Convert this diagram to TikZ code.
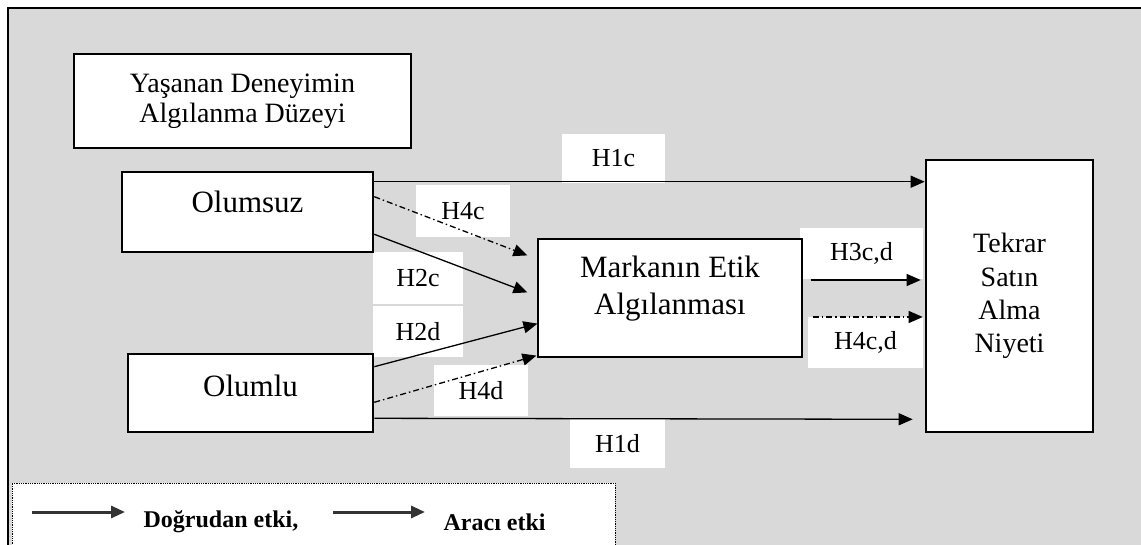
\documentclass[tikz,border=0pt]{standalone}
\usepackage{fontspec}
\setmainfont{Liberation Serif}
\usetikzlibrary{arrows.meta,positioning}
\definecolor{panelgray}{RGB}{217,217,217}

\begin{document}
\begin{tikzpicture}[
    x = 1pt, y = -1pt, % pixel units, y goes down
    > = {Triangle[length=14pt,width=12pt]}, % arrow head style
    line width = 1.3pt, % connector line
    direct/.style = {->},
    indirect/.style = {->, dash pattern=on 6pt off 3pt on 1.5pt off 3pt}
  ]

  \tikzset{
    box/.style = {draw = black, line width = 2.6pt, fill = white,
      align = center, inner sep = 0pt},
    hyp/.style = {fill = white, inner sep = 0pt,
      font = \fontsize{26}{30}\selectfont},
    legarrow/.style = {->, line width = 3pt, draw = black!80}
  }

  \clip (0,0) rectangle (1141,545);
  \fill[panelgray] (8,8) rectangle (1160,560);
  \draw[line width = 2.6pt] (8,560) -- (8,8) -- (1160,8);

  % hypothesis labels
  \node[hyp, minimum width=103, minimum height=49] (h1c) at (613.5,158.5) {H1c};
  \node[hyp, minimum width=94, minimum height=52] (h4c) at (463,211) {H4c};
  \node[hyp, minimum width=90, minimum height=52] (h2c) at (418,278) {H2c};
  \node[hyp, minimum width=90, minimum height=51] (h2d) at (418,331.5) {H2d};
  \node[hyp, minimum width=94, minimum height=51] (h4d) at (481,390.5) {H4d};
  \node[hyp, minimum width=95, minimum height=49] (h1d) at (617.5,443.5) {H1d};
  \node[hyp, minimum width=123, minimum height=51] (h3cd) at (861.5,253.5) {H3c,d};
  \node[hyp, minimum width=115, minimum height=51] (h4cd) at (865.5,342.5) {H4c,d};

  % boxes
  \node[box, minimum width=337, minimum height=94,
    font=\fontsize{28}{30}\selectfont] (level) at (242.5,101)
    {Yaşanan Deneyimin\\Algılanma Düzeyi};
  \node[box, minimum width=251, minimum height=80, text depth=20pt,
    font=\fontsize{31}{36}\selectfont] (neg) at (247.5,212) {Olumsuz};
  \node[box, minimum width=245, minimum height=78, text depth=14pt,
    font=\fontsize{31}{36}\selectfont] (pos) at (250.5,393) {Olumlu};
  \node[box, line width=1.2pt, minimum width=264, minimum height=118,
    font=\fontsize{31}{37}\selectfont] (brand) at (670,298)
    {Markanın Etik\\Algılanması\\[-12pt]};
  \node[box, minimum width=167, minimum height=272,
    font=\fontsize{28}{33.3}\selectfont] (intent) at (1009.5,296)
    {Tekrar\\Satın\\Alma\\Niyeti};

  % connectors
  \draw[direct] ([yshift=-11]neg.north east) -- ([yshift=-23]intent.north west);
  \draw[indirect] ([yshift=-26]neg.north east) -- ([xshift=-10,yshift=-17]brand.north west);
  \draw[direct] ([yshift=19]neg.south east) -- ([xshift=-10,yshift=-54]brand.north west);
  \draw[direct] ([yshift=-14]pos.north east) -- ([yshift=34]brand.south west);
  \draw[indirect] ([yshift=31]pos.south east) -- ([xshift=-1,yshift=2]brand.south west);
  \draw[direct] ([yshift=15]pos.south east) -- ([xshift=-12,yshift=14]intent.south west);
  \draw[direct] ([xshift=8,yshift=18]brand.east) -- ([xshift=-4,yshift=16]intent.west);
  \draw[indirect] ([xshift=10,yshift=-19]brand.east) -- ([xshift=-2,yshift=-21]intent.west);

  % legend
  \node[draw, densely dotted, line width=0.8pt, fill=white,
    minimum width=603, minimum height=80] (legend) at (313.5,523) {};
  \coordinate (d1) at (32,512);
  \coordinate (d2) at (125,512);
  \coordinate (m1) at (333,512);
  \coordinate (m2) at (425,512);
  \draw[legarrow] (d1) -- (d2);
  \draw[legarrow] (m1) -- (m2);
  \node[anchor=west, inner sep=0pt, font=\fontsize{24}{28}\bfseries] (dtext) at (143,522) {Doğrudan etki,};
  \node[anchor=west, inner sep=0pt, font=\fontsize{24}{28}\bfseries] (mtext) at (443,522) {Aracı etki};
\end{tikzpicture}
\end{document}
